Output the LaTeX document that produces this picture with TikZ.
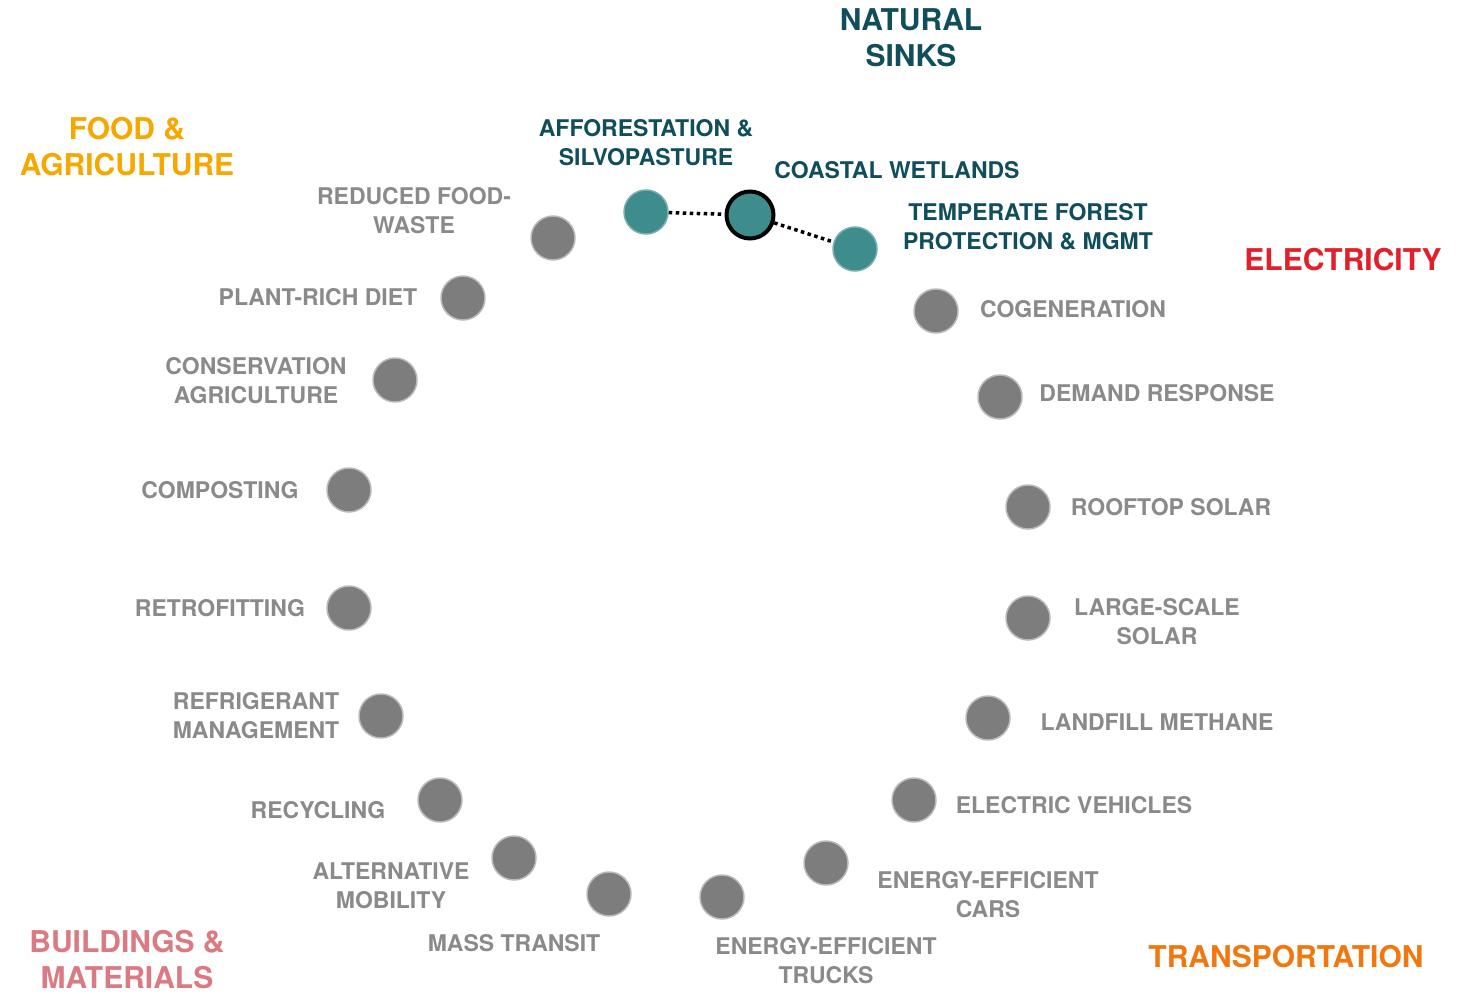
\documentclass[tikz,border=0pt]{standalone}
\usepackage{fontspec}
\setmainfont{TeX Gyre Heros}
\usetikzlibrary{positioning}
\definecolor{sink-teal}{RGB}{16, 78, 92}
\definecolor{dot-teal}{RGB}{62, 140, 140}
\definecolor{dot-gray}{RGB}{125, 125, 125}
\definecolor{text-gray}{RGB}{138, 138, 138}
\definecolor{food-orange}{RGB}{245, 168, 0}
\definecolor{elec-red}{RGB}{226, 32, 42}
\definecolor{trans-orange}{RGB}{240, 120, 16}
\definecolor{build-pink}{RGB}{218, 122, 130}
\tikzset{
  graydot/.style={circle, fill=dot-gray, draw=gray!55, line width=1.5pt, minimum size=44pt, inner sep=0pt},
  tealdot/.style={circle, fill=dot-teal, draw=dot-teal!70!white, line width=1.5pt, minimum size=44pt, inner sep=0pt},
  graylabel/.style={text=text-gray, font=\fontsize{23}{29}\selectfont\bfseries, align=center, inner sep=0pt},
  teallabel/.style={text=sink-teal, font=\fontsize{23}{29}\selectfont\bfseries, align=center, inner sep=0pt},
  sector/.style={font=\fontsize{30}{36}\selectfont\bfseries, align=center, inner sep=0pt},
  sinklink/.style={black, line width=3.5pt, dash pattern=on 3.5pt off 3.5pt}
}
\begin{document}
\begin{tikzpicture}[x=1pt, y=-1pt]
\useasboundingbox (0,0) rectangle (1461,993);
\node[sector, text=sink-teal] (sinks) at (911,38) {NATURAL\\SINKS};
\node[sector, text=food-orange] (food) at (127,147) {FOOD \&\\AGRICULTURE};
\node[sector, text=elec-red] (elec) at (1343,260) {ELECTRICITY};
\node[sector, text=trans-orange] (trans) at (1286,957) {TRANSPORTATION};
\node[sector, text=build-pink] (build) at (127,960) {BUILDINGS \&\\MATERIALS};
\node[tealdot] (afforest) at (646,212) {};
\node[tealdot, draw=black, line width=4pt, minimum size=47pt] (wetlands) at (750,215) {};
\node[tealdot] (forest) at (855,249) {};
\draw[sinklink] (afforest) -- (wetlands);
\draw[sinklink] (wetlands) -- (forest);
\node[teallabel] (afforestlbl) at (646,143) {AFFORESTATION \&\\SILVOPASTURE};
\node[teallabel] (wetlandslbl) at (897,170) {COASTAL WETLANDS};
\node[teallabel] (forestlbl) at (1028,227) {TEMPERATE FOREST\\PROTECTION \& MGMT};
\node[graydot] (foodwaste) at (553,238) {};
\node[graydot] (diet) at (463,298) {};
\node[graydot] (conservation) at (395,380) {};
\node[graydot] (composting) at (349,490) {};
\node[graydot] (retrofitting) at (349,608) {};
\node[graydot] (refrigerant) at (381,716) {};
\node[graydot] (recycling) at (440,800) {};
\node[graydot] (mobility) at (514,858) {};
\node[graydot] (transit) at (609,894) {};
\node[graydot] (trucks) at (722,897) {};
\node[graydot] (cars) at (826,863) {};
\node[graydot] (vehicles) at (914,800) {};
\node[graydot] (methane) at (988,718) {};
\node[graydot] (largesolar) at (1028,618) {};
\node[graydot] (rooftop) at (1028,507) {};
\node[graydot] (demand) at (1000,397) {};
\node[graydot] (cogen) at (936,311) {};
\node[graylabel] (foodwastelbl) at (414,211) {REDUCED FOOD-\\WASTE};
\node[graylabel] (dietlbl) at (318,297) {PLANT-RICH DIET};
\node[graylabel] (conservationlbl) at (256,381) {CONSERVATION\\AGRICULTURE};
\node[graylabel] (compostinglbl) at (220,490) {COMPOSTING};
\node[graylabel] (retrofittinglbl) at (220,608) {RETROFITTING};
\node[graylabel] (refrigerantlbl) at (256,716) {REFRIGERANT\\MANAGEMENT};
\node[graylabel] (recyclinglbl) at (318,810) {RECYCLING};
\node[graylabel] (mobilitylbl) at (391,886) {ALTERNATIVE\\MOBILITY};
\node[graylabel] (transitlbl) at (514,943) {MASS TRANSIT};
\node[graylabel] (truckslbl) at (826,961) {ENERGY-EFFICIENT\\TRUCKS};
\node[graylabel] (carslbl) at (988,895) {ENERGY-EFFICIENT\\CARS};
\node[graylabel] (vehicleslbl) at (1074,805) {ELECTRIC VEHICLES};
\node[graylabel] (methanelbl) at (1157,722) {LANDFILL METHANE};
\node[graylabel] (largesolarlbl) at (1157,622) {LARGE-SCALE\\SOLAR};
\node[graylabel] (rooftoplbl) at (1171,507) {ROOFTOP SOLAR};
\node[graylabel] (demandlbl) at (1157,393) {DEMAND RESPONSE};
\node[graylabel] (cogenlbl) at (1073,309) {COGENERATION};
\end{tikzpicture}
\end{document}
